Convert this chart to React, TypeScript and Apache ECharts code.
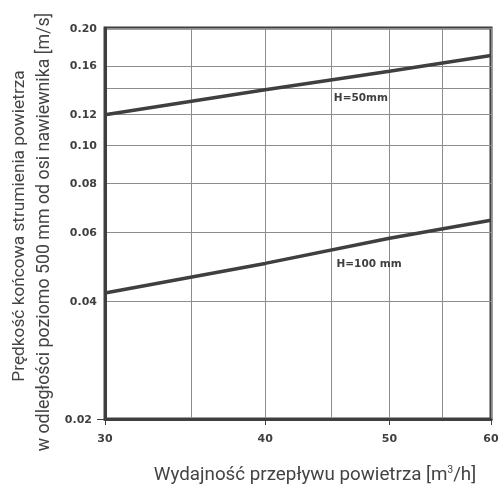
import React, { useEffect, useRef } from "react";
import * as echarts from "echarts";

const xValues = [30, 40, 50, 60];
const h50Values = [0.12, 0.139, 0.155, 0.17];
const h100Values = [0.042, 0.05, 0.058, 0.0645];
const yTickLabels = [0.02, 0.04, 0.06, 0.08, 0.1, 0.12, 0.16, 0.2];
const yGridValues = [0.02, 0.04, 0.06, 0.08, 0.1, 0.12, 0.14, 0.16, 0.2];
const yTickMarks = [0.02];
const xTickLabels = [30, 40, 50, 60];
const xGridValues = [30, 35, 40, 45, 50, 55, 60];
const seriesNames = ["H=50mm", "H=100 mm"];
const labelCoords = [
  [47.5, 0.133],
  [48.2, 0.0501],
];

const DARK = "#3f3f3f";
const GRID = "#8c8c8c";
const TICK_FONT = "DejaVu Sans";
const NAME_FONT = "Roboto";

const tickLabelStyle = {
  color: DARK,
  fontFamily: TICK_FONT,
  fontWeight: "bold",
  fontSize: 11,
};

export default function App() {
  const ref = useRef<HTMLDivElement>(null);
  useEffect(() => {
    if (!ref.current) return;
    const chart = echarts.init(ref.current, undefined, { renderer: "svg" });
    const mkSeries = (name: string, vals: number[], coord: number[]) => ({
      name,
      type: "line",
      xAxisIndex: 0,
      yAxisIndex: 0,
      data: xValues.map((x, i) => [x, vals[i]]),
      showSymbol: false,
      symbol: "none",
      lineStyle: { color: DARK, width: 3.5 },
      z: 5,
      markPoint: {
        symbol: "circle",
        symbolSize: 0,
        silent: true,
        label: {
          show: true,
          position: "inside",
          formatter: name,
          color: DARK,
          fontFamily: TICK_FONT,
          fontWeight: "bold",
          fontSize: 10.5,
        },
        data: [{ coord }],
      },
    });
    const xBase = { type: "log", logBase: 10, min: 30, max: 60, position: "bottom" };
    const yBase = { type: "log", logBase: 10, min: 0.02, max: 0.2, position: "left" };
    chart.setOption({
      animation: false,
      grid: {
        left: 105,
        right: 11,
        top: 28,
        bottom: 72,
        show: true,
        borderColor: DARK,
        borderWidth: 3,
        backgroundColor: "transparent",
      },
      xAxis: [
        {
          ...xBase,
          axisLine: { show: true, lineStyle: { color: DARK, width: 3 } },
          axisTick: { show: false, customValues: xGridValues },
          splitLine: { show: true, lineStyle: { color: GRID, width: 1 } },
          axisLabel: { show: false },
        },
        {
          ...xBase,
          offset: 0,
          axisLine: { show: false },
          axisTick: {
            show: true,
            customValues: xTickLabels,
            length: 6,
            lineStyle: { color: DARK, width: 1 },
          },
          splitLine: { show: false },
          axisLabel: {
            ...tickLabelStyle,
            customValues: xTickLabels,
            margin: 14,
            formatter: (v: number) => String(Math.round(v)),
          },
        },
      ],
      yAxis: [
        {
          ...yBase,
          axisLine: { show: true, lineStyle: { color: DARK, width: 3 } },
          axisTick: { show: false, customValues: yGridValues },
          splitLine: { show: true, lineStyle: { color: GRID, width: 1 } },
          axisLabel: { show: false },
        },
        {
          ...yBase,
          offset: 0,
          axisLine: { show: false },
          axisTick: {
            show: true,
            customValues: yTickMarks,
            length: 8,
            lineStyle: { color: DARK, width: 1 },
          },
          splitLine: { show: false },
          axisLabel: {
            ...tickLabelStyle,
            customValues: yTickLabels,
            margin: 8,
            formatter: (v: number) =>
              yTickMarks.some((t) => Math.abs(t - v) < 1e-9)
                ? `{shift|${v.toFixed(2)}}`
                : v.toFixed(2),
            rich: {
              shift: {
                ...tickLabelStyle,
                padding: [0, 5, 0, 0],
              },
            },
          },
        },
      ],
      graphic: [
        {
          type: "text",
          x: 18,
          y: 226,
          rotation: Math.PI / 2,
          style: {
            text: "Prędkość końcowa strumienia powietrza",
            fill: "#444",
            font: `17.3px ${NAME_FONT}`,
            textAlign: "center",
            textVerticalAlign: "middle",
          },
        },
        {
          type: "text",
          x: 42,
          y: 232,
          rotation: Math.PI / 2,
          style: {
            text: "w odległości poziomo 500 mm od osi nawiewnika [m/s]",
            fill: "#444",
            font: `17.8px ${NAME_FONT}`,
            textAlign: "center",
            textVerticalAlign: "middle",
          },
        },
        {
          type: "text",
          x: 315,
          y: 474,
          style: {
            text: "Wydajność przepływu powietrza [m{sup|3}/h]",
            fill: "#444",
            font: `18.8px ${NAME_FONT}`,
            textAlign: "center",
            textVerticalAlign: "middle",
            rich: {
              sup: {
                fontSize: 10,
                fontFamily: NAME_FONT,
                fill: "#444",
                verticalAlign: "top",
                padding: [0, 0, 9, 0],
              },
            },
          },
        },
      ],
      series: [
        mkSeries(seriesNames[0], h50Values, labelCoords[0]),
        mkSeries(seriesNames[1], h100Values, labelCoords[1]),
      ],
    });
    return () => chart.dispose();
  }, []);
  return (
    <div
      ref={ref}
      style={{ position: "fixed", left: 0, top: 0, width: 502, height: 491 }}
    />
  );
}
